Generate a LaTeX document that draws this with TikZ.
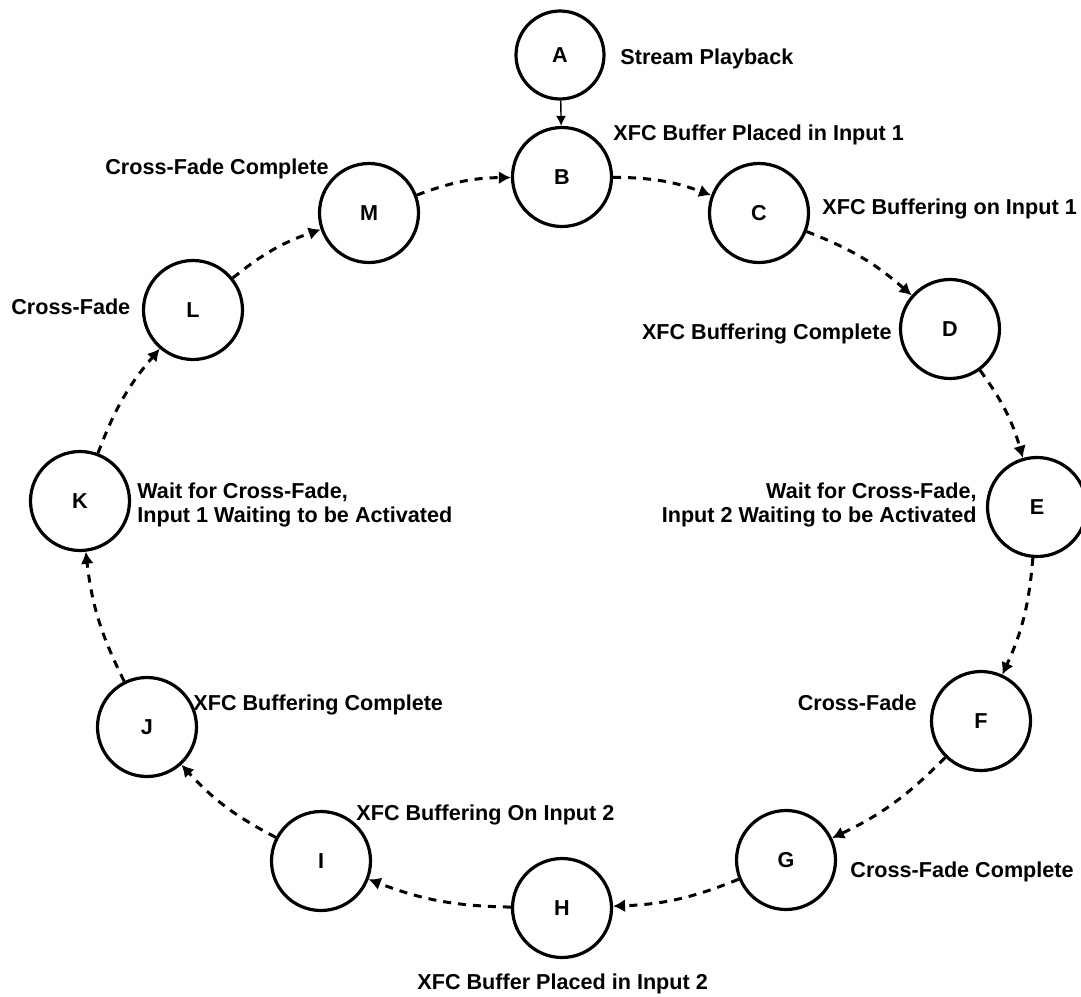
\documentclass[tikz,border=0pt]{standalone}
\usepackage{fontspec}
\setmainfont{Liberation Sans}
\usetikzlibrary{arrows.meta}

\newcommand\lblfont{\fontsize{10.8}{12}\selectfont\bfseries}

\begin{document}
\begin{tikzpicture}[x=0.5pt,y=0.5pt,
  state/.style={circle,draw,line width=1.6pt,minimum size=49.5pt,inner sep=0pt,font=\lblfont},
  small state/.style={state,minimum size=44pt},
  lbl/.style={inner sep=0pt,font=\lblfont},
  flow/.style={line width=1.5pt,dash pattern=on 4pt off 3.5pt,
    -{Latex[length=6pt,width=6.5pt]},bend left=10},
  feed/.style={line width=0.7pt,-{Latex[length=5pt,width=5pt]}}]

\useasboundingbox[fill=white] (0,0) rectangle (1081,-996);

% states on the ring
\node[small state] (A) at (560,-55) {A};
\node[state] (B) at (562,-177) {B};
\node[state] (C) at (759,-213) {C};
\node[state] (D) at (950,-329) {D};
\node[state] (E) at (1037,-507) {E};
\node[state] (F) at (981,-721) {F};
\node[state] (G) at (786,-860) {G};
\node[state] (H) at (562,-908) {H};
\node[state] (I) at (321,-861) {I};
\node[state] (J) at (147,-727) {J};
\node[state] (K) at (80,-501) {K};
\node[state] (L) at (193,-310) {L};
\node[state] (M) at (369,-213) {M};

% state descriptions
\node[lbl,anchor=base west] (tA) at (620,-64.5) {Stream Playback};
\node[lbl,anchor=base west] (tB) at (613,-140.5) {XFC Buffer Placed in Input 1};
\node[lbl,anchor=base west] (tC) at (822,-214.5) {XFC Buffering on Input 1};
\node[lbl,anchor=base east] (tD) at (892,-339.5) {XFC Buffering Complete};
\node[lbl,anchor=east,align=right] (tE) at (977,-505) {Wait for Cross-Fade,\\Input 2 Waiting to be Activated};
\node[lbl,anchor=base east] (tF) at (917,-710.5) {Cross-Fade};
\node[lbl,anchor=base west] (tG) at (850,-877.5) {Cross-Fade Complete};
\node[lbl,anchor=base west] (tH) at (417,-989.5) {XFC Buffer Placed in Input 2};
\node[lbl,anchor=base west] (tI) at (356,-820.5) {XFC Buffering On Input 2};
\node[lbl,anchor=base west] (tJ) at (193,-710.5) {XFC Buffering Complete};
\node[lbl,anchor=west,align=left] (tK) at (137,-505) {Wait for Cross-Fade,\\Input 1 Waiting to be Activated};
\node[lbl,anchor=base west] (tL) at (11,-314.5) {Cross-Fade};
\node[lbl,anchor=base west] (tM) at (105,-174.5) {Cross-Fade Complete};

% transitions
\draw[feed] (A) -- (B);
\draw[flow] (B) to (C);
\draw[flow] (C) to (D);
\draw[flow] (D) to (E);
\draw[flow] (E) to (F);
\draw[flow] (F) to (G);
\draw[flow] (G) to (H);
\draw[flow] (H) to (I);
\draw[flow] (I) to (J);
\draw[flow] (J) to (K);
\draw[flow] (K) to (L);
\draw[flow] (L) to (M);
\draw[flow] (M) to (B);
\end{tikzpicture}
\end{document}
